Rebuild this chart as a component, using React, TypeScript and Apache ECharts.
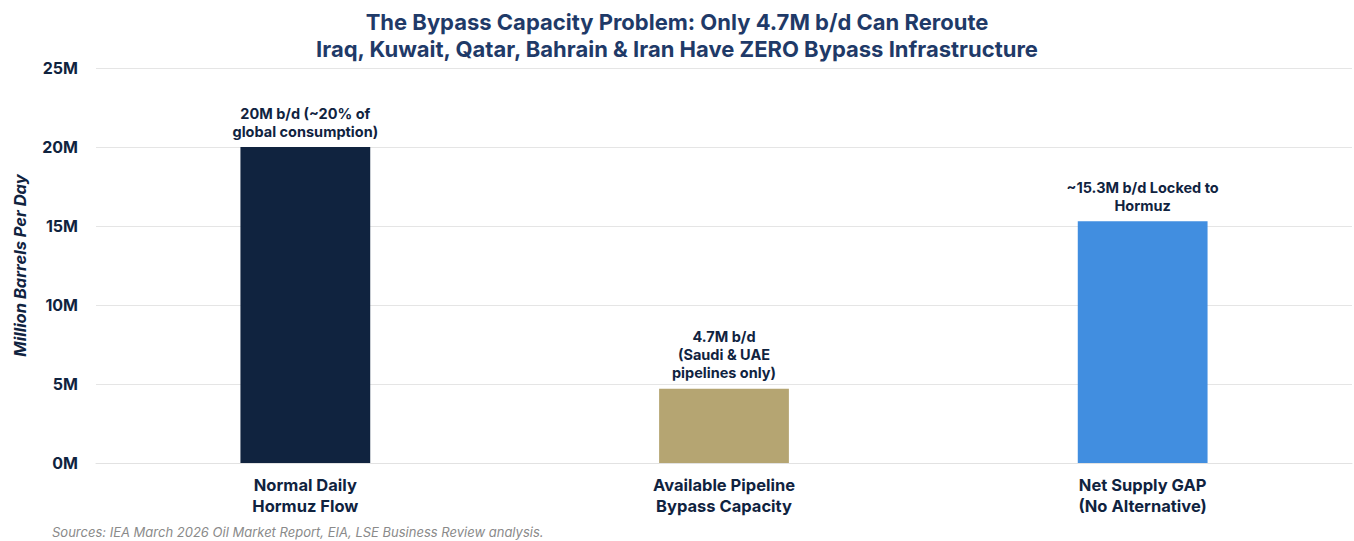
import React, { useEffect, useRef } from "react";
import * as echarts from "echarts";

const categories: string[] = ["Normal Daily\nHormuz Flow", "Available Pipeline\nBypass Capacity", "Net Supply GAP\n(No Alternative)"];
const values: number[] = [20, 4.7, 15.3];
const barColors: string[] = ["#10233f", "#b5a572", "#418ee0"];
const barLabels: string[] = [
  "20M b/d (~20% of\nglobal consumption)",
  "4.7M b/d\n(Saudi & UAE\npipelines only)",
  "~15.3M b/d Locked to\nHormuz",
];
const titleLines: string[] = [
  "The Bypass Capacity Problem: Only 4.7M b/d Can Reroute",
  "Iraq, Kuwait, Qatar, Bahrain & Iran Have ZERO Bypass Infrastructure",
];
const yAxisName = "Million Barrels Per Day";
const sourceText = "Sources: IEA March 2026 Oil Market Report, EIA, LSE Business Review analysis.";

const NAVY = "#10233f";
const TITLE = "#1f3a68";
const FONT = "Inter, 'Noto Sans', sans-serif";

export default function App() {
  const ref = useRef<HTMLDivElement>(null);
  useEffect(() => {
    document.body.style.margin = "0";
    if (!ref.current) return;
    const chart = echarts.init(ref.current, null, { renderer: "svg" });
    chart.setOption({
      animation: false,
      title: {
        text: titleLines.join("\n"),
        left: "center",
        top: 3,
        textStyle: {
          fontFamily: FONT,
          fontWeight: "bold",
          fontSize: 22,
          lineHeight: 27,
          color: TITLE,
        },
      },
      grid: { left: 96, right: 2, top: 68, bottom: 78 },
      xAxis: {
        type: "category",
        data: categories,
        axisLine: { show: true, lineStyle: { color: "#e2e2e2" } },
        axisTick: { show: false },
        axisLabel: {
          fontFamily: FONT,
          fontWeight: "bold",
          fontSize: 16.5,
          lineHeight: 21,
          color: NAVY,
          margin: 11,
        },
      },
      yAxis: {
        type: "value",
        min: 0,
        max: 25,
        interval: 5,
        name: yAxisName,
        nameLocation: "middle",
        nameGap: 68,
        nameTextStyle: {
          fontFamily: FONT,
          fontWeight: "bold",
          fontStyle: "italic",
          fontSize: 16.5,
          color: NAVY,
        },
        axisLine: { show: false },
        axisTick: { show: false },
        splitLine: { lineStyle: { color: "#e5e5e5" } },
        axisLabel: {
          fontFamily: FONT,
          fontWeight: "bold",
          fontSize: 16,
          color: NAVY,
          margin: 18,
          formatter: (v: number) => `${v}M`,
        },
      },
      series: [
        {
          type: "bar",
          barWidth: "31%",
          data: values.map((v, i) => ({
            value: v,
            itemStyle: { color: barColors[i] },
            label: { formatter: barLabels[i] },
          })),
          label: {
            show: true,
            position: "top",
            distance: 7,
            fontFamily: FONT,
            fontWeight: "bold",
            fontSize: 14.5,
            lineHeight: 18,
            color: NAVY,
            align: "center",
          },
        },
      ],
      graphic: [
        {
          type: "text",
          left: 52,
          top: 525,
          style: {
            text: sourceText,
            fontFamily: FONT,
            fontStyle: "italic",
            fontSize: 13,
            fill: "#8a8a8a",
          },
        },
      ],
    });
    return () => chart.dispose();
  }, []);
  return <div ref={ref} style={{ width: 1354, height: 541 }} />;
}
